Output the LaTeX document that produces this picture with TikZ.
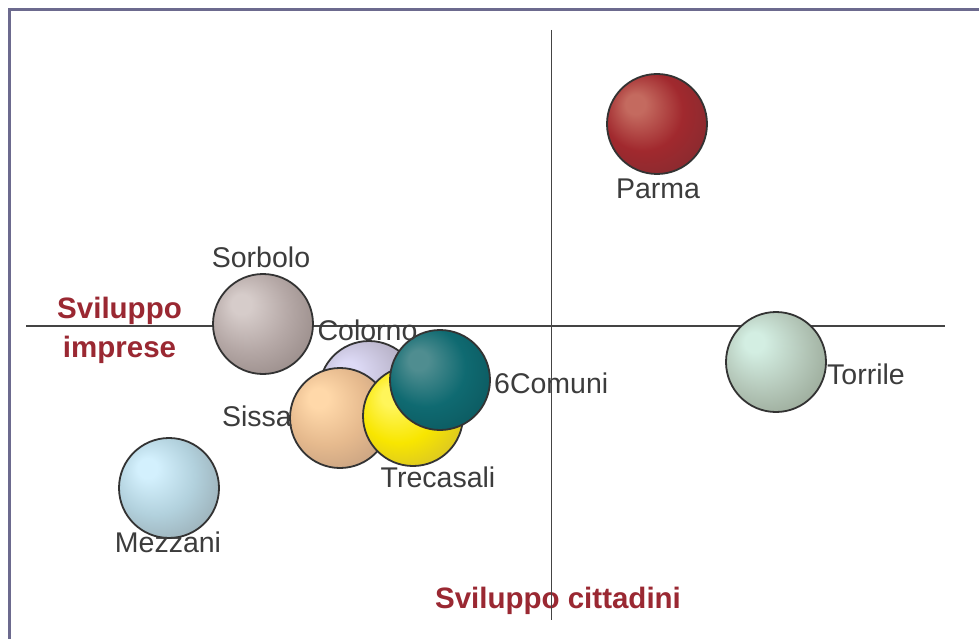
\documentclass[tikz,border=0pt]{standalone}
\usepackage{fontspec}
\setmainfont{Liberation Sans}
\definecolor{framecol}{HTML}{6C6A8E}
\definecolor{axiscol}{HTML}{444444}
\definecolor{labcol}{HTML}{3C3C3C}
\definecolor{redlab}{HTML}{9A2832}
\definecolor{outline}{HTML}{333333}
% bubble colours: highlight, middle, outer
\definecolor{parA}{HTML}{C46A5F}\definecolor{parB}{HTML}{A1292E}\definecolor{parC}{HTML}{7B2B30}
\definecolor{torA}{HTML}{D3EEE2}\definecolor{torB}{HTML}{B6C9BB}\definecolor{torC}{HTML}{8D9A88}
\definecolor{sorA}{HTML}{D6CCCA}\definecolor{sorB}{HTML}{B5A8A6}\definecolor{sorC}{HTML}{8B7E7B}
\definecolor{colA}{HTML}{DDDAF6}\definecolor{colB}{HTML}{C0BBD2}\definecolor{colC}{HTML}{9A94A5}
\definecolor{sisA}{HTML}{FFD8A9}\definecolor{sisB}{HTML}{E6BA8E}\definecolor{sisC}{HTML}{B8957A}
\definecolor{treA}{HTML}{FFF55A}\definecolor{treB}{HTML}{F8E600}\definecolor{treC}{HTML}{C8B23A}
\definecolor{comA}{HTML}{4F8D90}\definecolor{comB}{HTML}{0F6A71}\definecolor{comC}{HTML}{0B5157}
\definecolor{mezA}{HTML}{D3F0FD}\definecolor{mezB}{HTML}{B2D1DD}\definecolor{mezC}{HTML}{8F9EA4}
\newcommand\mkbub[4]{%
  \pgfdeclareradialshading{#1}{\pgfpoint{-12bp}{11bp}}{%
    color(0bp)=(#2); color(5bp)=(#2); color(20bp)=(#3); color(40bp)=(#4); color(50bp)=(#4)}}
\mkbub{shpar}{parA}{parB}{parC}
\mkbub{shtor}{torA}{torB}{torC}
\mkbub{shsor}{sorA}{sorB}{sorC}
\mkbub{shcol}{colA}{colB}{colC}
\mkbub{shsis}{sisA}{sisB}{sisC}
\mkbub{shtre}{treA}{treB}{treC}
\mkbub{shcom}{comA}{comB}{comC}
\mkbub{shmez}{mezA}{mezB}{mezC}
\tikzset{
  bubble/.style={circle, minimum size=100pt, inner sep=0pt, draw=outline, line width=1.8pt, shade, shading=#1},
  lab/.style={inner sep=0pt, text=labcol, font=\fontsize{28.5}{30}\selectfont},
  axlab/.style={inner sep=0pt, text=redlab, font=\fontsize{29.5}{31}\selectfont\bfseries},
  axisline/.style={draw=axiscol, line width=1.1pt},
  framebox/.style={draw=framecol, line width=2.4pt}
}
\begin{document}
\begin{tikzpicture}[x=1pt,y=-1pt]
\useasboundingbox (0,0) rectangle (979,639);
\fill[white] (0,0) rectangle (979,639);
% frame
\coordinate (fa) at (9.5,645);
\coordinate (fb) at (9.5,9.5);
\coordinate (fc) at (985,9.5);
\draw[framebox] (fa) -- (fb) -- (fc);
% axes
\coordinate (hl) at (26,326);
\coordinate (hr) at (945,326);
\coordinate (vt) at (551.5,30);
\coordinate (vb) at (551.5,620);
\draw[axisline] (hl) -- (hr);
% bubbles
\node[bubble=shpar] (parma) at (657,124) {};
\node[bubble=shtor] (torrile) at (776,362) {};
\node[bubble=shsor] (sorbolo) at (263,324) {};
\node[bubble=shmez] (mezzani) at (169,488) {};
\node[bubble=shcol] (colorno) at (369,391) {};
\node[bubble=shsis] (sissa) at (340,418) {};
\node[bubble=shtre] (trecasali) at (413,416) {};
\node[bubble=shcom] (comuni) at (440,380) {};
% labels
\node[lab, anchor=base] (lparma) at (658,198) {Parma};
\node[lab, anchor=base] (lsorbolo) at (261,267) {Sorbolo};
\node[lab, anchor=base] (lcolorno) at (367.5,340) {Colorno};
\node[lab, anchor=base west] (lcomuni) at (494,393) {6Comuni};
\node[lab, anchor=base west] (ltorrile) at (827,384) {Torrile};
\node[lab, anchor=base east] (lsissa) at (292,426) {Sissa};
\node[lab, anchor=base] (ltrecasali) at (438,487) {Trecasali};
\node[lab, anchor=base] (lmezzani) at (168,552) {Mezzani};
% axis titles
\node[axlab, anchor=base] (ax1) at (119.5,318) {Sviluppo};
\node[axlab, anchor=base] (ax2) at (119.5,357) {imprese};
\node[axlab, anchor=base] (ax3) at (558,608) {Sviluppo cittadini};
\draw[axisline] (vt) -- (vb);
\end{tikzpicture}
\end{document}
